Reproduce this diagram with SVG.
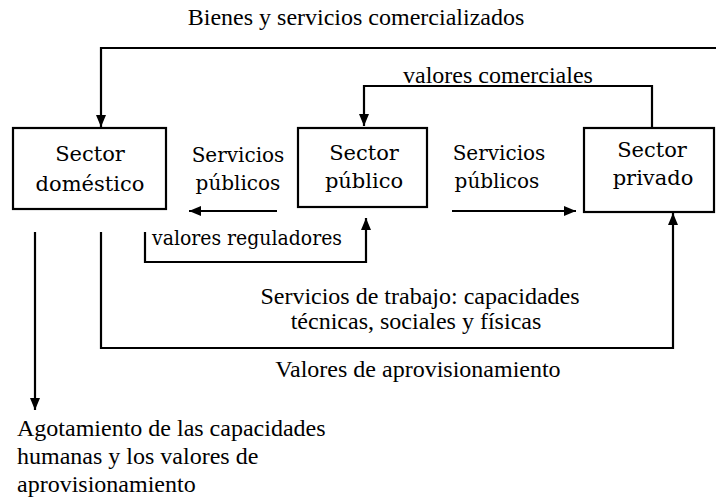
<svg xmlns="http://www.w3.org/2000/svg" width="716" height="499" viewBox="0 0 716 499">
<defs>
<marker id="ah" viewBox="0 0 12 10" refX="12" refY="5" markerWidth="12" markerHeight="10" markerUnits="userSpaceOnUse" orient="auto">
<path d="M0,0 L12,5 L0,10 z" fill="#000"/>
</marker>
</defs>
<style>
text{font-family:"Liberation Serif","Times New Roman",serif;font-size:24px;fill:#000}
.l{font-family:"DejaVu Serif","Liberation Serif",serif;font-size:20px}
.b{font-family:"DejaVu Serif","Liberation Serif",serif;font-size:21px}
.box{fill:#fff;stroke:#000;stroke-width:2.2}
.c{fill:none;stroke:#000;stroke-width:2.2}
.m{text-anchor:middle}
</style>
<rect width="716" height="499" fill="#fff"/>
<g id="connectors">
<polyline class="c" points="716,48 101,48 101,127" marker-end="url(#ah)"/>
<polyline class="c" points="652,128 652,86 364,86 364,126" marker-end="url(#ah)"/>
<line class="c" x1="277" y1="211" x2="189" y2="211" marker-end="url(#ah)"/>
<line class="c" x1="452" y1="211" x2="576" y2="211" marker-end="url(#ah)"/>
<polyline class="c" points="145,232 145,262 366,262 366,218" marker-end="url(#ah)"/>
<polyline class="c" points="101,232 101,348 673,348 673,213" marker-end="url(#ah)"/>
<line class="c" x1="35" y1="232" x2="35" y2="410" marker-end="url(#ah)"/>
<text class="m" x="356" y="25">Bienes y servicios comercializados</text>
<text x="403" y="83">valores comerciales</text>
<text class="l m" x="238" y="162">Servicios</text>
<text class="l m" x="238" y="190">públicos</text>
<text class="l m" x="499" y="160">Servicios</text>
<text class="l m" x="497" y="188">públicos</text>
<text class="l" x="152" y="245" textLength="190" lengthAdjust="spacingAndGlyphs">valores reguladores</text>
<text class="m" x="420" y="304">Servicios de trabajo: capacidades</text>
<text class="m" x="416" y="329">técnicas, sociales y físicas</text>
<text class="m" x="418" y="377">Valores de aprovisionamiento</text>
<text x="17" y="436">Agotamiento de las capacidades</text>
<text x="17" y="464">humanas y los valores de</text>
<text x="17" y="492">aprovisionamiento</text>
</g>
<g id="sector-domestico">
<rect class="box" x="13" y="128" width="153" height="81"/>
<text class="b m" x="90" y="161">Sector</text>
<text class="b m" x="90" y="191">doméstico</text>
</g>
<g id="sector-publico">
<rect class="box" x="298" y="128" width="129" height="79"/>
<text class="b m" x="364" y="160">Sector</text>
<text class="b m" x="364" y="188">público</text>
</g>
<g id="sector-privado">
<rect class="box" x="584" y="128" width="130" height="84"/>
<text class="b m" x="652" y="157">Sector</text>
<text class="b m" x="653" y="185">privado</text>
</g>
</svg>
